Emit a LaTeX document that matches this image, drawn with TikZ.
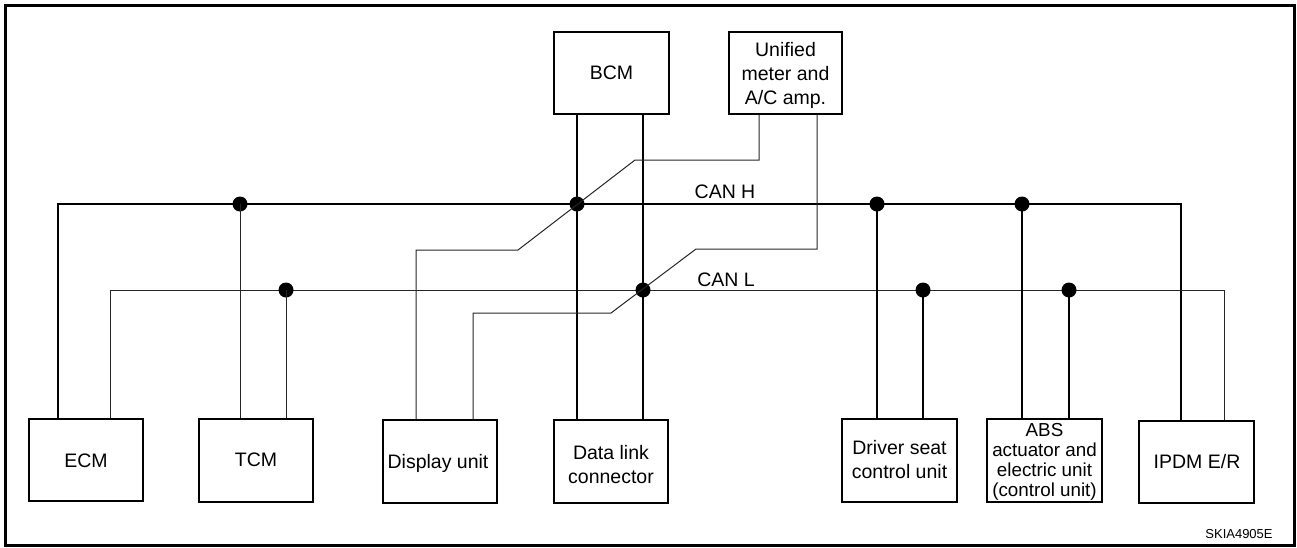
\documentclass[tikz,border=0pt]{standalone}
\usepackage{fontspec}
\setmainfont{Liberation Sans}
\begin{document}
\begin{tikzpicture}[x=1pt,y=-1pt,
  box/.style={draw, line width=1.3pt, minimum width=114pt, minimum height=82pt, inner sep=0pt, align=center, font=\fontsize{19.5}{23.5}\selectfont},
  wire/.style={line width=1.3pt},
  thinwire/.style={line width=1pt, black!85},
  dot/.style={circle, fill=black, inner sep=0pt, minimum size=15pt},
  txt/.style={inner sep=0pt, align=center, font=\fontsize{19.5}{23.5}\selectfont},
  lbl/.style={inner sep=0pt, font=\fontsize{19.5}{22}\selectfont}]
\useasboundingbox (0,0) rectangle (1297,547);
\draw[line width=2.5pt] (5.5,5.5) rectangle (1294.5,545.5);
% boxes
\node[box] (ecm) at (86,460) {};
\node[txt] (ecmt) at (86,461) {ECM};
\node[box, minimum height=83pt] (tcm) at (256,460.5) {};
\node[txt] (tcmt) at (256,460) {TCM};
\node[box, minimum height=83pt] (disp) at (440,461.5) {};
\node[txt] (dispt) at (438,463) {Display unit};
\node[box, minimum height=83pt] (dlc) at (611,461.5) {};
\node[txt] (dlct) at (611,464.5) {Data link\\connector};
\node[box, minimum width=115pt, minimum height=83pt] (drv) at (899.5,460.5) {};
\node[txt] (drvt) at (899.5,459.5) {Driver seat\\control unit};
\node[box, minimum width=115pt, minimum height=83pt] (abs) at (1044.5,460.5) {};
\node[txt, font=\fontsize{18.8}{19.8}\selectfont] (abst) at (1044.5,462) {ABS\\actuator and\\electric unit\\(control unit)};
\node[box, minimum width=115pt] (ipdm) at (1196.5,462) {};
\node[txt] (ipdmt) at (1197,462) {IPDM E/R};
\node[box, minimum width=115pt] (bcm) at (611.5,73) {};
\node[txt] (bcmt) at (611.5,73) {BCM};
\node[box, minimum width=113pt] (unif) at (785.5,73) {};
\node[txt, font=\fontsize{19.5}{24}\selectfont] (unift) at (785.5,75) {Unified\\meter and\\A/C amp.};
% bus end points
\coordinate (hL) at (58,204);
\coordinate (hR) at (1181,204);
\coordinate (lL) at (110,290);
\coordinate (lR) at (1224,290);
% display unit routing points
\coordinate (a1) at (416,250);
\coordinate (a2) at (518,250);
\coordinate (a3) at (635,160);
\coordinate (a4) at (759,160);
\coordinate (b1) at (473,313);
\coordinate (b2) at (611,313);
\coordinate (b3) at (696,249);
\coordinate (b4) at (817,249);
% buses
\draw[wire] (ecm.north -| hL) -- (hL) -- (hR) -- (ipdm.north -| hR);
\draw[thinwire] (ecm.north -| lL) -- (lL) -- (lR) -- (ipdm.north -| lR);
% junction dots
\node[dot] (h1) at (240,204) {};
\node[dot] (h2) at (577,204) {};
\node[dot] (h3) at (877,204) {};
\node[dot] (h4) at (1022,204) {};
\node[dot] (l1) at (286,290) {};
\node[dot] (l2) at (643,290) {};
\node[dot] (l3) at (923,290) {};
\node[dot] (l4) at (1069,290) {};
% stubs
\draw[thinwire] (tcm.north -| h1) -- (h1.center);
\draw[thinwire] (tcm.north -| l1) -- (l1.center);
\draw[wire] (bcm.south -| h2) -- (dlc.north -| h2);
\draw[wire] (bcm.south -| l2) -- (dlc.north -| l2);
\draw[wire] (drv.north -| h3) -- (h3.center);
\draw[wire] (drv.north -| l3) -- (l3.center);
\draw[wire] (abs.north -| h4) -- (h4.center);
\draw[wire] (abs.north -| l4) -- (l4.center);
% display unit to unified meter
\draw[thinwire] (disp.north -| a1) -- (a1) -- (a2) -- (a3) -- (a4) -- (unif.south -| a4);
\draw[thinwire] (disp.north -| b1) -- (b1) -- (b2) -- (b3) -- (b4) -- (unif.south -| b4);
% labels
\node[lbl] (canh) at (725,192) {CAN H};
\node[lbl] (canl) at (726,280) {CAN L};
\node[inner sep=0pt, font=\fontsize{13}{15}\selectfont] (code) at (1239,534) {SKIA4905E};
\end{tikzpicture}
\end{document}
